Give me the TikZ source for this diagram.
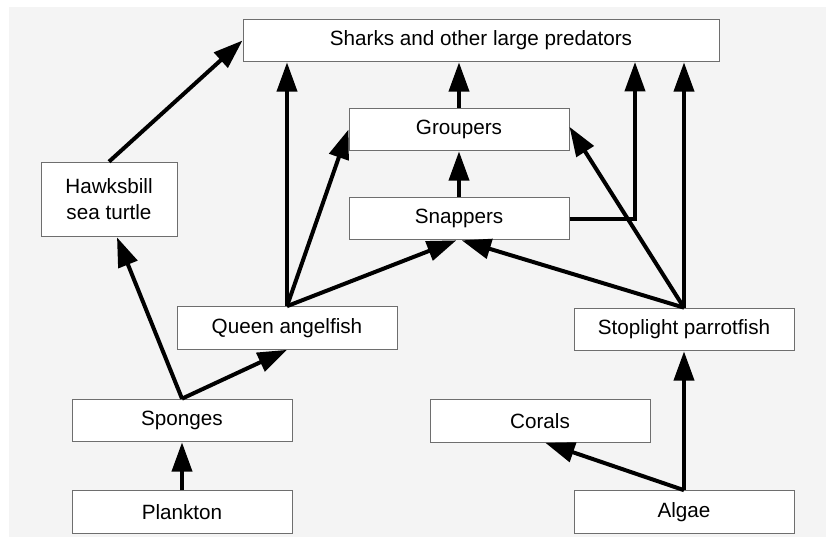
\documentclass[tikz,border=0pt]{standalone}
\usepackage{fontspec}
\setmainfont{Liberation Sans}
\usepackage{tikz}
\usetikzlibrary{arrows.meta}

\definecolor{bggray}{RGB}{244,244,244}
\definecolor{boxline}{RGB}{110,110,110}
\tikzset{
  species/.style={draw=boxline, line width=0.75pt, fill=white, inner sep=0pt,
    minimum width=165pt, minimum height=32pt, align=center,
    font=\fontsize{15.5}{19.5}\selectfont},
  feeds/.style={line width=3pt, -{Triangle[length=22pt,width=15pt]}},
}

\begin{document}
\begin{tikzpicture}[x=0.75pt,y=0.75pt,yscale=-1,xscale=1]
    \useasboundingbox (0,0) rectangle (826,539);
    %Background
    \fill[bggray] (9,7) rectangle (826,537);

    % Text Node
    \draw (481,40.5) node [species, minimum width=357pt] (sharks) {Sharks and other large predators};
    % Text Node
    \draw (109,199.5) node [species, minimum width=102pt, minimum height=56pt] (hawk) {Hawksbill\\sea turtle};
    % Text Node
    \draw (459,129.5) node [species] (groupers) {Groupers};
    % Text Node
    \draw (459,218.5) node [species] (snappers) {Snappers};
    % Text Node
    \draw (287,328) node [species] (queen) {Queen angelfish};
    % Text Node
    \draw (684,329.5) node [species] (parrot) {Stoplight parrotfish};
    % Text Node
    \draw (182,420.5) node [species] (sponges) {Sponges};
    % Text Node
    \draw (540,421) node [species] (corals) {Corals};
    % Text Node
    \draw (182,512) node [species] (plankton) {Plankton};
    % Text Node
    \draw (684,512) node [species] (algae) {Algae};

    \coordinate (snapup) at (635,62);

    %Straight Lines
    \draw [feeds] (hawk.north) -- (sharks.west);
    %Straight Lines
    \draw [feeds] (queen.north) -- (queen.north |- sharks.south);
    %Straight Lines
    \draw [feeds] (queen.north) -- (groupers.west);
    %Straight Lines
    \draw [feeds] (queen.north) -- ([xshift=-2pt]snappers.south);
    %Straight Lines
    \draw [feeds] (sponges.north) -- ([xshift=6pt]hawk.south);
    %Straight Lines
    \draw [feeds] (sponges.north) -- (queen.south);
    %Straight Lines
    \draw [feeds] (plankton.north) -- (sponges.south);
    %Straight Lines
    \draw [feeds] (groupers.north) -- (sharks.south -| groupers.north);
    %Straight Lines
    \draw [feeds] (snappers.north) -- (groupers.south);
    %Elbow Lines
    \draw [feeds] (snappers.east) -| (snapup);
    %Straight Lines
    \draw [feeds] (parrot.north) -- (parrot.north |- sharks.south);
    %Straight Lines
    \draw [feeds] (parrot.north) -- ([yshift=-2pt]groupers.east);
    %Straight Lines
    \draw [feeds] (parrot.north) -- ([xshift=2pt]snappers.south);
    %Straight Lines
    \draw [feeds] (algae.north) -- (parrot.south);
    %Straight Lines
    \draw [feeds] (algae.north) -- ([xshift=4pt]corals.south);

\end{tikzpicture}
\end{document}
